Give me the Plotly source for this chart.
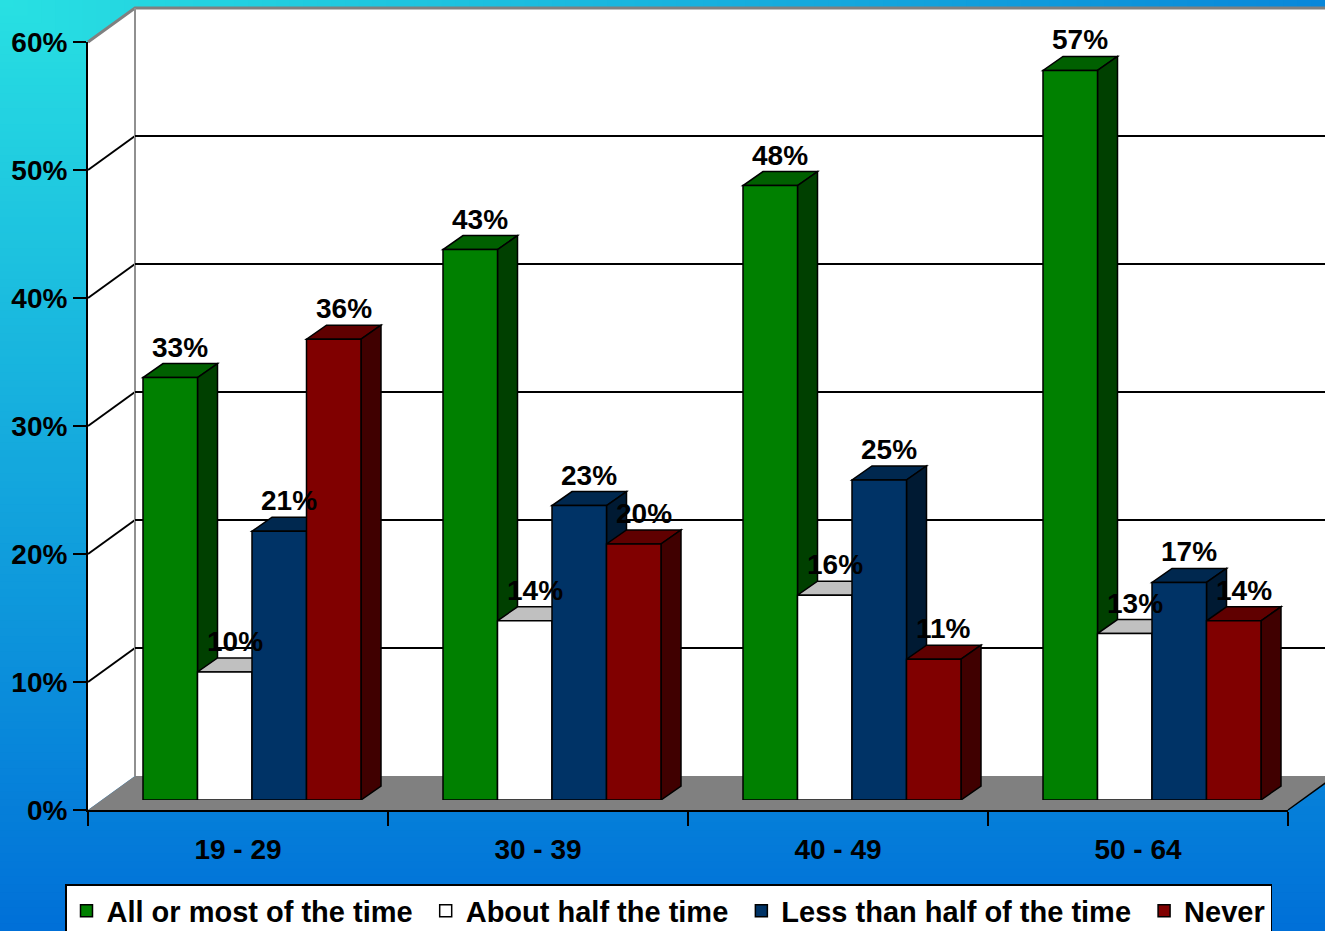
import base64
import plotly.graph_objects as go

# ---- data -------------------------------------------------------------
categories = ["19 - 29", "30 - 39", "40 - 49", "50 - 64"]
series_names = ["All or most of the time", "About half the time",
                "Less than half of the time", "Never"]
all_or_most = [33, 43, 48, 57]
about_half = [10, 14, 16, 13]
less_than_half = [21, 23, 25, 17]
never = [36, 20, 11, 14]
y_tick_values = [0, 10, 20, 30, 40, 50, 60]
y_tick_labels = ["0%", "10%", "20%", "30%", "40%", "50%", "60%"]

series_values = [all_or_most, about_half, less_than_half, never]
# front / top / side colours of each series
face_colors = [
    ("#008000", "#006000", "#004000"),
    ("#ffffff", "#c0c0c0", "#808080"),
    ("#003366", "#00284f", "#001a33"),
    ("#800000", "#600000", "#400000"),
]

# ---- canvas & 3-D frame geometry (pixels) ----------------------------
W, H = 1325, 931
FRONT_L, FRONT_R, FRONT_B, FRONT_T = 88, 1288, 810, 42
BOX_DX, BOX_DY = 47, -34          # depth of the whole chart box
BAR_DX, BAR_DY = 14, -10          # where the bar fronts sit inside the box
COL_DX, COL_DY = 20, -14          # depth of each column
Y_MAX = 60
N_CAT = len(categories)
PX_PER_X = (FRONT_R - FRONT_L) / N_CAT
PX_PER_Y = (FRONT_B - FRONT_T) / Y_MAX

FONT = "Liberation Sans, Arial, sans-serif"


def px(x):
    return x / W


def py(y):
    return 1 - y / H


def front_y(v):
    return FRONT_B - v * PX_PER_Y


# ---- background gradient (from the top-left corner) -------------------
c0, c1 = (40, 224, 226), (0, 112, 216)
rects = []
n = 120
for i in range(n, 0, -1):
    s = i / n
    t = (i - 0.5) / n
    col = tuple(round(a + (b - a) * t) for a, b in zip(c0, c1))
    rects.append('<rect x="0" y="0" width="%.1f" height="%.1f" fill="#%02x%02x%02x"/>'
                 % (s * W / 0.8, s * H, *col))
svg = ('<svg xmlns="http://www.w3.org/2000/svg" width="%d" height="%d" '
       'viewBox="0 0 %d %d" preserveAspectRatio="none">%s</svg>'
       % (W, H, W, H, "".join(rects)))
bg_uri = "data:image/svg+xml;base64," + base64.b64encode(svg.encode()).decode()

fig = go.Figure()

# ---- column fronts ----------------------------------------------------
bar_w = 54.5 / PX_PER_X
group_w = bar_w * len(series_values)
x_centers = [i + 0.5 for i in range(N_CAT)]
for k, (name, vals) in enumerate(zip(series_names, series_values)):
    # a trailing no-break space widens the gap to the next legend entry
    legend_name = name + ("\u00a0" if k < len(series_names) - 1 else "")
    fig.add_trace(go.Bar(
        x=x_centers, y=vals, name=legend_name,
        offset=-group_w / 2 + k * bar_w, width=bar_w,
        marker=dict(color=face_colors[k][0], line=dict(color="black", width=1.5)),
        xaxis="x2", yaxis="y2", hoverinfo="skip",
    ))

# empty traces so the wall and front-axis subplots exist
fig.add_trace(go.Scatter(x=[], y=[], xaxis="x", yaxis="y", showlegend=False))
fig.add_trace(go.Scatter(x=[], y=[], xaxis="x3", yaxis="y3", showlegend=False))

shapes = []

# ---- walls and floor (paper coordinates) ------------------------------
def ppath(points):
    return "M " + " L ".join("%.5f,%.5f" % (px(x), py(y)) for x, y in points) + " Z"


back_l, back_b, back_t = FRONT_L + BOX_DX, FRONT_B + BOX_DY, FRONT_T + BOX_DY
shapes.append(dict(type="rect", xref="paper", yref="paper", layer="below",
                   x0=px(back_l), x1=1, y0=py(back_b), y1=py(back_t),
                   fillcolor="white", line=dict(width=0)))
shapes.append(dict(type="path", xref="paper", yref="paper", layer="below",
                   path=ppath([(FRONT_L, FRONT_B), (FRONT_L, FRONT_T),
                               (back_l, back_t), (back_l, back_b)]),
                   fillcolor="white", line=dict(width=0)))
shapes.append(dict(type="path", xref="paper", yref="paper", layer="below",
                   path=ppath([(FRONT_L, FRONT_B), (FRONT_R, FRONT_B),
                               (FRONT_R + BOX_DX, back_b), (back_l, back_b)]),
                   fillcolor="#808080", line=dict(width=0)))
shapes.append(dict(type="line", xref="paper", yref="paper", layer="below",
                   x0=px(FRONT_R), y0=py(FRONT_B),
                   x1=px(FRONT_R + BOX_DX), y1=py(back_b),
                   line=dict(color="black", width=1.5)))
# grid lines on the side wall
for v in y_tick_values[1:-1]:
    shapes.append(dict(type="line", xref="paper", yref="paper", layer="below",
                       x0=px(FRONT_L), y0=py(front_y(v)),
                       x1=px(back_l), y1=py(front_y(v) + BOX_DY),
                       line=dict(color="black", width=2)))
# top edge and back corner of the box
shapes.append(dict(type="path", xref="paper", yref="paper", layer="below",
                   path=("M %.5f,%.5f L %.5f,%.5f L %.5f,%.5f"
                         % (px(FRONT_L), py(FRONT_T), px(back_l), py(back_t),
                            1.01, py(back_t))),
                   line=dict(color="#808080", width=3)))
shapes.append(dict(type="line", xref="paper", yref="paper", layer="below",
                   x0=px(back_l), y0=py(back_t), x1=px(back_l), y1=py(back_b),
                   line=dict(color="#909090", width=2)))

# ---- column tops and sides (bar-plane axes) ---------------------------
ddx = COL_DX / PX_PER_X
ddy = -COL_DY / PX_PER_Y


def dpath(points):
    return "M " + " L ".join("%.5f,%.5f" % p for p in points) + " Z"


annotations = []
for c in range(N_CAT):
    for k, vals in enumerate(series_values):
        v = vals[c]
        xl = x_centers[c] - group_w / 2 + k * bar_w
        xr = xl + bar_w
        shapes.append(dict(type="path", xref="x2", yref="y2", layer="below",
                           path=dpath([(xl, v), (xr, v), (xr + ddx, v + ddy), (xl + ddx, v + ddy)]),
                           fillcolor=face_colors[k][1], line=dict(color="black", width=1.5)))
        shapes.append(dict(type="path", xref="x2", yref="y2", layer="below",
                           path=dpath([(xr, 0), (xr, v), (xr + ddx, v + ddy), (xr + ddx, ddy)]),
                           fillcolor=face_colors[k][2], line=dict(color="black", width=1.5)))
        annotations.append(dict(xref="x2", yref="y2", x=(xl + xr) / 2 + ddx / 2, y=v + ddy,
                                text="%d%%" % v, showarrow=False, yanchor="bottom",
                                borderpad=0,
                                font=dict(family=FONT, size=28, color="black", weight="bold")))

# ---- layout -----------------------------------------------------------
tick_font = dict(family=FONT, size=28, color="black", weight="bold")

fig.update_layout(
    width=W, height=H, autosize=False,
    margin=dict(l=0, r=0, t=0, b=0, autoexpand=False),
    paper_bgcolor="#0a80dc", plot_bgcolor="rgba(0,0,0,0)",
    images=[dict(source=bg_uri, xref="paper", yref="paper", x=0, y=1,
                 sizex=1, sizey=1, xanchor="left", yanchor="top",
                 sizing="stretch", layer="below")],
    shapes=shapes, annotations=annotations,
    showlegend=True,
    legend=dict(orientation="h", x=px(65), y=py(884), xanchor="left", yanchor="top",
                bgcolor="white", bordercolor="black", borderwidth=1.5,
                font=dict(family=FONT, size=29, color="black", weight="bold"),
                traceorder="normal"),
    # back wall
    xaxis=dict(domain=[px(back_l), 1], range=[0, 1], visible=False, anchor="y"),
    yaxis=dict(domain=[py(back_b), py(back_t)], range=[0, Y_MAX], anchor="x",
               showgrid=True, gridcolor="black", gridwidth=2,
               tickmode="array", tickvals=y_tick_values[1:-1],
               showticklabels=False, ticks="", showline=False, zeroline=False),
    # bar plane
    xaxis2=dict(domain=[px(FRONT_L + BAR_DX), px(FRONT_R + BAR_DX)], range=[0, N_CAT],
                visible=False, anchor="y2"),
    yaxis2=dict(domain=[py(FRONT_B + BAR_DY), py(FRONT_T + BAR_DY)], range=[0, Y_MAX],
                visible=False, anchor="x2"),
    # front axes
    xaxis3=dict(domain=[px(FRONT_L), px(FRONT_R)], range=[0, N_CAT], anchor="y3",
                showgrid=False, zeroline=False, showline=True, linecolor="black", linewidth=2,
                tickmode="array", tickvals=x_centers, ticktext=categories, ticks="",
                ticklabelstandoff=13, tickfont=tick_font,
                minor=dict(tickmode="array", tickvals=list(range(N_CAT + 1)),
                           ticks="outside", ticklen=14, tickwidth=2, tickcolor="black",
                           showgrid=False)),
    yaxis3=dict(domain=[py(FRONT_B), py(FRONT_T)], range=[0, Y_MAX], anchor="x3",
                showgrid=False, zeroline=False, showline=True, linecolor="black", linewidth=2,
                tickmode="array", tickvals=y_tick_values, ticktext=y_tick_labels,
                ticks="outside", ticklen=13, tickwidth=2, tickcolor="black",
                tickfont=tick_font),
)

fig.write_html("out.html")
